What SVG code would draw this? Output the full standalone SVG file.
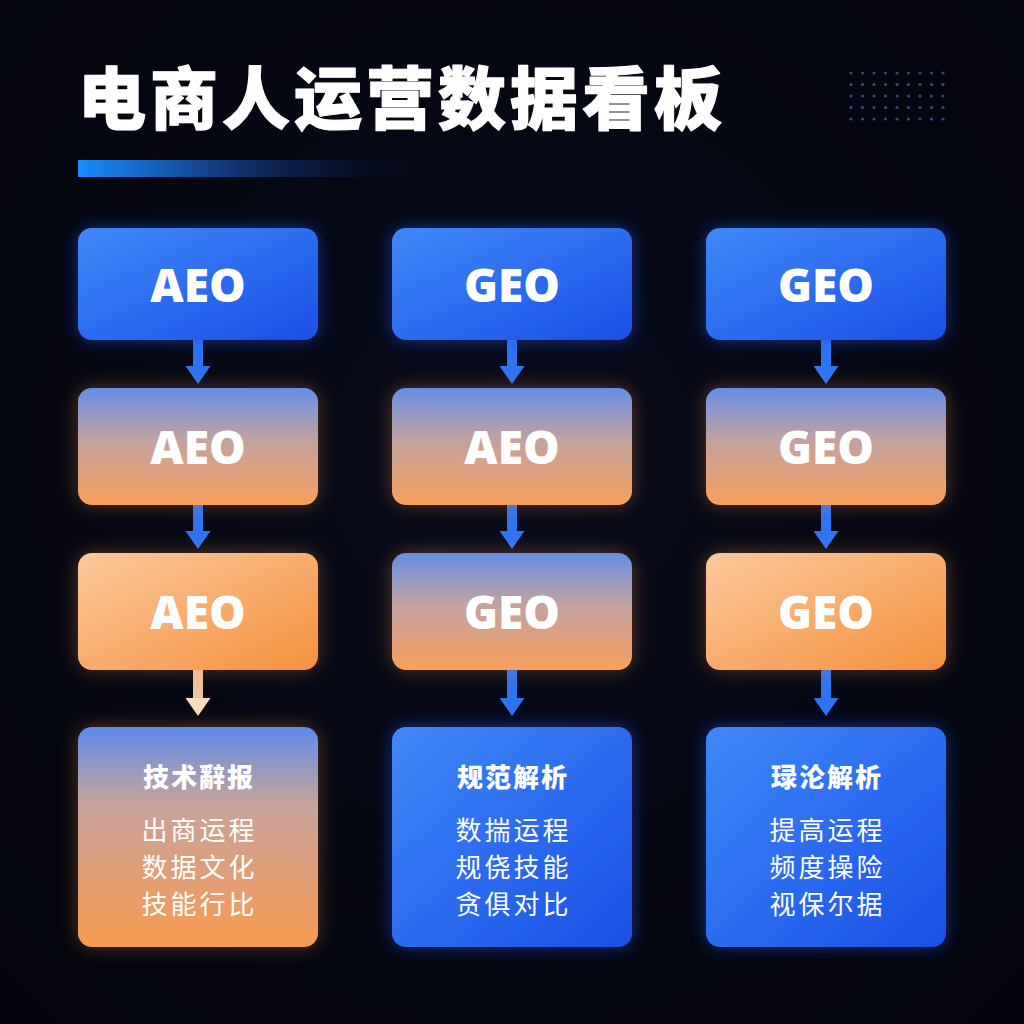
<svg xmlns="http://www.w3.org/2000/svg" width="1024" height="1024" viewBox="0 0 1024 1024">
<defs>
<style>
.title{font-family:"Noto Sans CJK SC","Noto Sans",sans-serif;font-weight:900;font-size:68px;fill:#ffffff;stroke:#ffffff;stroke-width:1.2;stroke-linejoin:round;letter-spacing:4px}
.lbl{font-family:"Open Sans","Noto Sans",sans-serif;font-weight:800;font-size:46px;fill:#ffffff;text-anchor:middle}
.h{font-family:"Noto Sans CJK SC",sans-serif;font-weight:900;font-size:26px;fill:#ffffff;text-anchor:middle;letter-spacing:2px}
.b{font-family:"Noto Sans CJK SC",sans-serif;font-weight:400;font-size:26px;fill:#ffffff;text-anchor:middle;letter-spacing:3px}
.dot{fill:#3a4a86}
.conn{stroke:#2d74f4;stroke-width:10;fill:none;marker-end:url(#ah)}
.connP{stroke:#efc49c;stroke-width:10;fill:none;marker-end:url(#ahP)}
</style>
<radialGradient id="bg" cx="0.5" cy="0.45" r="0.75">
<stop offset="0" stop-color="#080b1c"/>
<stop offset="1" stop-color="#03040b"/>
</radialGradient>
<linearGradient id="bar" x1="0" y1="0" x2="1" y2="0">
<stop offset="0" stop-color="#1a8cff"/>
<stop offset="0.45" stop-color="#10306e"/>
<stop offset="1" stop-color="#070a1a" stop-opacity="0"/>
</linearGradient>
<linearGradient id="blue" x1="0" y1="0" x2="1" y2="1">
<stop offset="0" stop-color="#3f88f8"/>
<stop offset="1" stop-color="#1a50e6"/>
</linearGradient>
<linearGradient id="mix" x1="0" y1="0" x2="0" y2="1">
<stop offset="0" stop-color="#648fe6"/>
<stop offset="0.45" stop-color="#c4a2a0"/>
<stop offset="1" stop-color="#f8a05a"/>
</linearGradient>
<linearGradient id="mix4" x1="0" y1="0" x2="0" y2="1">
<stop offset="0" stop-color="#5b8cea"/>
<stop offset="0.35" stop-color="#c8a39b"/>
<stop offset="1" stop-color="#f89b52"/>
</linearGradient>
<linearGradient id="orange" x1="0" y1="0" x2="1" y2="1">
<stop offset="0" stop-color="#fbc89c"/>
<stop offset="1" stop-color="#f5913e"/>
</linearGradient>
<filter id="glowB" x="-20%" y="-20%" width="140%" height="140%">
<feFlood flood-color="#1d4fd8" flood-opacity="0.55"/>
<feComposite operator="in" in2="SourceAlpha"/>
<feGaussianBlur stdDeviation="9"/>
<feMerge><feMergeNode/><feMergeNode in="SourceGraphic"/></feMerge>
</filter>
<filter id="glowO" x="-20%" y="-20%" width="140%" height="140%">
<feFlood flood-color="#f08a3a" flood-opacity="0.35"/>
<feComposite operator="in" in2="SourceAlpha"/>
<feGaussianBlur stdDeviation="10"/>
<feMerge><feMergeNode/><feMergeNode in="SourceGraphic"/></feMerge>
</filter>
<marker id="ah" markerUnits="userSpaceOnUse" markerWidth="18" markerHeight="25" viewBox="0 0 18 25" refX="0" refY="12.5" orient="auto">
<path d="M0,0 L18,12.5 L0,25 Z" fill="#2d74f4"/>
</marker>
<marker id="ahP" markerUnits="userSpaceOnUse" markerWidth="18" markerHeight="25" viewBox="0 0 18 25" refX="0" refY="12.5" orient="auto">
<path d="M0,0 L18,12.5 L0,25 Z" fill="#f8dcc0"/>
</marker>
</defs>
<rect width="1024" height="1024" fill="url(#bg)"/>

<g id="title">
<text class="title" x="78" y="124">电商人运营数据看板</text>
<rect x="78" y="160" width="360" height="17" fill="url(#bar)"/>
</g>

<g id="dots">
<circle class="dot" cx="851" cy="73" r="1.6"/><circle class="dot" cx="862.5" cy="73" r="1.6"/><circle class="dot" cx="874" cy="73" r="1.6"/><circle class="dot" cx="885.5" cy="73" r="1.6"/><circle class="dot" cx="897" cy="73" r="1.6"/><circle class="dot" cx="908.5" cy="73" r="1.6"/><circle class="dot" cx="920" cy="73" r="1.6"/><circle class="dot" cx="931.5" cy="73" r="1.6"/><circle class="dot" cx="943" cy="73" r="1.6"/>
<circle class="dot" cx="851" cy="84.5" r="1.6"/><circle class="dot" cx="862.5" cy="84.5" r="1.6"/><circle class="dot" cx="874" cy="84.5" r="1.6"/><circle class="dot" cx="885.5" cy="84.5" r="1.6"/><circle class="dot" cx="897" cy="84.5" r="1.6"/><circle class="dot" cx="908.5" cy="84.5" r="1.6"/><circle class="dot" cx="920" cy="84.5" r="1.6"/><circle class="dot" cx="931.5" cy="84.5" r="1.6"/><circle class="dot" cx="943" cy="84.5" r="1.6"/>
<circle class="dot" cx="851" cy="96" r="1.6"/><circle class="dot" cx="862.5" cy="96" r="1.6"/><circle class="dot" cx="874" cy="96" r="1.6"/><circle class="dot" cx="885.5" cy="96" r="1.6"/><circle class="dot" cx="897" cy="96" r="1.6"/><circle class="dot" cx="908.5" cy="96" r="1.6"/><circle class="dot" cx="920" cy="96" r="1.6"/><circle class="dot" cx="931.5" cy="96" r="1.6"/><circle class="dot" cx="943" cy="96" r="1.6"/>
<circle class="dot" cx="851" cy="107.5" r="1.6"/><circle class="dot" cx="862.5" cy="107.5" r="1.6"/><circle class="dot" cx="874" cy="107.5" r="1.6"/><circle class="dot" cx="885.5" cy="107.5" r="1.6"/><circle class="dot" cx="897" cy="107.5" r="1.6"/><circle class="dot" cx="908.5" cy="107.5" r="1.6"/><circle class="dot" cx="920" cy="107.5" r="1.6"/><circle class="dot" cx="931.5" cy="107.5" r="1.6"/><circle class="dot" cx="943" cy="107.5" r="1.6"/>
<circle class="dot" cx="851" cy="119" r="1.6"/><circle class="dot" cx="862.5" cy="119" r="1.6"/><circle class="dot" cx="874" cy="119" r="1.6"/><circle class="dot" cx="885.5" cy="119" r="1.6"/><circle class="dot" cx="897" cy="119" r="1.6"/><circle class="dot" cx="908.5" cy="119" r="1.6"/><circle class="dot" cx="920" cy="119" r="1.6"/><circle class="dot" cx="931.5" cy="119" r="1.6"/><circle class="dot" cx="943" cy="119" r="1.6"/>
</g>

<g id="connectors">
<line class="conn" x1="198" y1="340" x2="198" y2="366"/>
<line class="conn" x1="198" y1="505" x2="198" y2="531"/>
<line class="connP" x1="198" y1="670" x2="198" y2="698"/>
<line class="conn" x1="512" y1="340" x2="512" y2="366"/>
<line class="conn" x1="512" y1="505" x2="512" y2="531"/>
<line class="conn" x1="512" y1="670" x2="512" y2="698"/>
<line class="conn" x1="826" y1="340" x2="826" y2="366"/>
<line class="conn" x1="826" y1="505" x2="826" y2="531"/>
<line class="conn" x1="826" y1="670" x2="826" y2="698"/>
</g>

<g id="n1a"><rect x="78" y="228" width="240" height="112" rx="14" fill="url(#blue)" filter="url(#glowB)"/><text class="lbl" x="198" y="302">AEO</text></g>
<g id="n1b"><rect x="392" y="228" width="240" height="112" rx="14" fill="url(#blue)" filter="url(#glowB)"/><text class="lbl" x="512" y="302">GEO</text></g>
<g id="n1c"><rect x="706" y="228" width="240" height="112" rx="14" fill="url(#blue)" filter="url(#glowB)"/><text class="lbl" x="826" y="302">GEO</text></g>

<g id="n2a"><rect x="78" y="388" width="240" height="117" rx="14" fill="url(#mix)" filter="url(#glowO)"/><text class="lbl" x="198" y="464">AEO</text></g>
<g id="n2b"><rect x="392" y="388" width="240" height="117" rx="14" fill="url(#mix)" filter="url(#glowO)"/><text class="lbl" x="512" y="464">AEO</text></g>
<g id="n2c"><rect x="706" y="388" width="240" height="117" rx="14" fill="url(#mix)" filter="url(#glowO)"/><text class="lbl" x="826" y="464">GEO</text></g>

<g id="n3a"><rect x="78" y="553" width="240" height="117" rx="14" fill="url(#orange)" filter="url(#glowO)"/><text class="lbl" x="198" y="629">AEO</text></g>
<g id="n3b"><rect x="392" y="553" width="240" height="117" rx="14" fill="url(#mix)" filter="url(#glowO)"/><text class="lbl" x="512" y="629">GEO</text></g>
<g id="n3c"><rect x="706" y="553" width="240" height="117" rx="14" fill="url(#orange)" filter="url(#glowO)"/><text class="lbl" x="826" y="629">GEO</text></g>

<g id="n4a"><rect x="78" y="727" width="240" height="220" rx="14" fill="url(#mix4)" filter="url(#glowO)"/>
<text class="h" x="199" y="787">技术辭报</text>
<text class="b" x="199.5" y="840">出商运程</text>
<text class="b" x="199.5" y="877">数据文化</text>
<text class="b" x="199.5" y="914">技能行比</text></g>
<g id="n4b"><rect x="392" y="727" width="240" height="220" rx="14" fill="url(#blue)" filter="url(#glowB)"/>
<text class="h" x="513" y="787">规范解析</text>
<text class="b" x="513.5" y="840">数揣运程</text>
<text class="b" x="513.5" y="877">规侥技能</text>
<text class="b" x="513.5" y="914">贪俱对比</text></g>
<g id="n4c"><rect x="706" y="727" width="240" height="220" rx="14" fill="url(#blue)" filter="url(#glowB)"/>
<text class="h" x="827" y="787">琭沦解析</text>
<text class="b" x="827.5" y="840">提高运程</text>
<text class="b" x="827.5" y="877">频度操险</text>
<text class="b" x="827.5" y="914">视保尔据</text></g>
</svg>
